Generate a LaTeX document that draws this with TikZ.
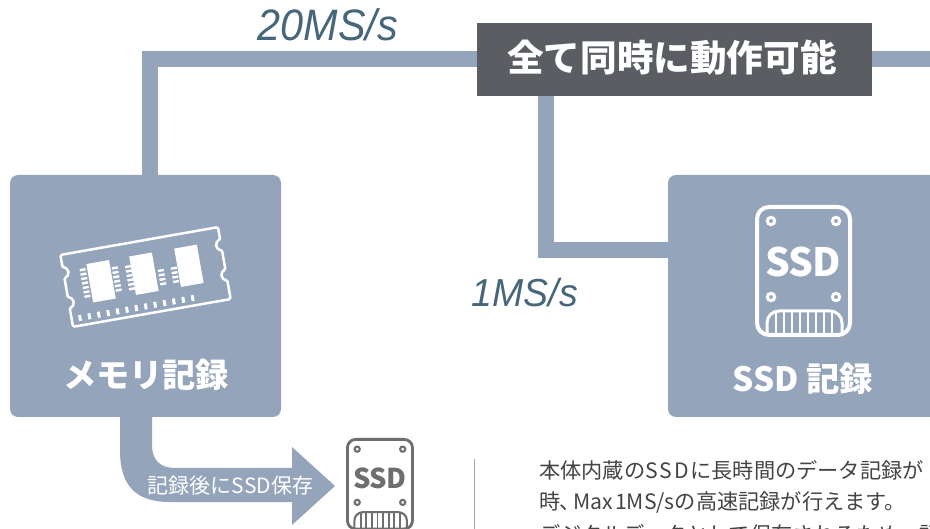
\documentclass[tikz,border=0pt]{standalone}
\usepackage{fontspec}
\setmainfont{Noto Sans CJK JP}
\newfontfamily\latinit{Liberation Sans}
\definecolor{flow}{HTML}{94A4BA}
\definecolor{darkbox}{HTML}{5A5E62}
\definecolor{speed}{HTML}{46667A}
\definecolor{icongrey}{HTML}{6E6E6E}
\definecolor{bodytext}{HTML}{444444}
\tikzset{
  blockbox/.style={fill=flow,rounded corners=8pt,inner sep=0pt,outer sep=0pt},
  conn/.style={draw=flow,line width=16pt},
  speedlabel/.style={text=speed,inner sep=0pt,anchor=center},
  bodyline/.style={text=bodytext,inner sep=0pt,anchor=west,font=\fontsize{21.2}{21.2}\selectfont},
  whitelabel/.style={text=white,inner sep=0pt,anchor=center},
}
\newcommand{\fs}[1]{\fontsize{#1}{#1}\selectfont}
\newcommand{\wideS}{S\kern1.8pt S\kern1.8pt D\kern1.8pt}
% #1 name, #2 position, #3 scale, #4 colour
\newcommand{\ssdicon}[4]{%
  \begin{scope}[shift={(#2)},scale=#3,draw=#4,text=#4]
    \pgfmathsetlengthmacro{\lw}{4*#3}
    \pgfmathsetlengthmacro{\rw}{3*#3}
    \draw[line width=\lw] (2,2) [rounded corners=12pt*#3] rectangle (95,130);
    \foreach \hx/\hy in {16/16,81/16,16/92,81/92}
      \draw[line width=\rw] (\hx,\hy) circle (3.7);
    \pgfmathsetlengthmacro{\fsz}{39*#3}
    \node[inner sep=0pt,font=\bfseries\fontsize{\fsz}{\fsz}\selectfont] (#1) at (48,57) {S\kern-.03em S\kern-.03em D};
    \draw[line width=\rw,rounded corners=12pt*#3] (12,130) -- (12,106) -- (87,106) -- (87,130);
    \foreach \sx in {21,29,...,77}
      \draw[line width=\rw*0.8] (\sx,107) -- (\sx,130);
  \end{scope}}
\begin{document}
\begin{tikzpicture}[x=1pt,y=-1pt]
\useasboundingbox (0,0) rectangle (930,529);
\fill[white] (0,0) rectangle (930,529);

% blocks
\node[blockbox,minimum width=271pt,minimum height=242pt] (mem) at (145.5,296) {};
\node[blockbox,minimum width=290pt,minimum height=242pt] (ssdblock) at (813,296) {};
\node[fill=darkbox,inner sep=0pt,outer sep=0pt,minimum width=395pt,minimum height=73pt] (title) at (674.5,59.5) {};
\node[whitelabel,font=\bfseries\fs{36.6}] (titletext) at (672,58) {全て同時に動作可能};
\coordinate (rightedge) at (940,59);

% connectors
\draw[conn] ([xshift=4.5pt]mem.north) |- ([yshift=0.5pt]title.west);
\draw[conn] ([yshift=0.5pt]title.east) -- (rightedge);
\draw[conn] ([xshift=-128.5pt]title.south) |- ([yshift=46pt]ssdblock.west);

% speed labels
\node[speedlabel,font=\latinit\itshape\fs{44},xscale=.94,transform shape] (fast) at (328,25) {20MS/s};
\node[speedlabel,font=\latinit\itshape\fs{39},xscale=.96,transform shape] (slow) at (525,293) {1MS/s};

% memory module icon
\begin{scope}[shift={(145.5,277)},rotate=10,line join=round]
  \draw[white,line width=2.5pt,rounded corners=1.5pt]
    (-80,-36.5) -- (80,-36.5) -- (80,-23.5)
    arc[start angle=-90,end angle=-270,radius=5] -- (80,7)
    arc[start angle=-90,end angle=-270,radius=5] -- (80,36.5) -- (-80,36.5) -- (-80,17)
    arc[start angle=90,end angle=-90,radius=5] -- (-80,-13.5)
    arc[start angle=90,end angle=-90,radius=5] -- cycle;
  \foreach \cx in {-44.5,-1,44.7}
    \fill[white] (\cx-11.5,-23) rectangle (\cx+11.5,16);
  \foreach \i in {0,...,12}
    \fill[white] ({-71.6+9.53*\i-1.5},26) rectangle ({-71.6+9.53*\i+1.5},32);
  \foreach \lx/\ly/\n in {-60.6/-4.6/7,-28.7/-3/6,-15.4/-2/6,16.3/3/4,29.4/3/4}
    \foreach \j in {1,...,\n}
      \fill[white] (\lx-3,{\ly+4.5*(\j-(\n+1)/2)-1.2}) rectangle (\lx+3,{\ly+4.5*(\j-(\n+1)/2)+1.2});
\end{scope}
\node[whitelabel,font=\bfseries\fs{33.2}] (memtext) at (146,375) {メモリ記録};

% ssd block content
\ssdicon{ssdlabel}{755,205}{1}{white}
\node[whitelabel,font=\bfseries\fs{33.4}] (ssdtext) at (803,379) {SSD 記録};

% bent arrow
\fill[flow] (120,416) -- (120,450) .. controls (120,485) and (135,502) .. (170,502)
  -- (292,502) -- (292,525) -- (335,486) -- (292,447) -- (292,468) -- (175,468)
  .. controls (160,468) and (152,460) .. (152,445) -- (152,416) -- cycle;
\node[whitelabel,font=\fs{21}] (savelabel) at (230.5,486) {記録後にSSD保存};
\ssdicon{ssdsmall}{346,438}{0.7}{icongrey}

% note
\draw[draw=gray!70,line width=1pt] (474.5,459) -- (474.5,529);
\node[bodyline] (l1) at (539,470) {本体内蔵の\wideS に長時間のデータ記録が};
\node[bodyline] (l2) at (539,502) {時\kern-1pt、\kern-7pt Max\kern-3pt{} 1MS/sの高速記録が行えます。};
\node[bodyline] (l3) at (539,534.5) {デジタルデータとして保存されるため、記録後};
\end{tikzpicture}
\end{document}
